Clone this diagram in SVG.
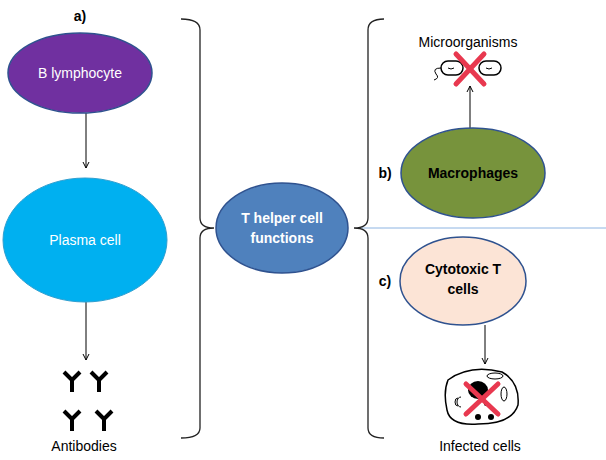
<svg xmlns="http://www.w3.org/2000/svg" width="606" height="460" viewBox="0 0 606 460">
<style>
text{font-family:"Liberation Sans",Arial,sans-serif;font-size:14px;text-anchor:middle}
.b{font-weight:bold}
.w{fill:#fff}
.ln{stroke:#000;stroke-width:1;fill:none}
.br{stroke:#222;stroke-width:1.3;fill:none}
.x{stroke:#e8384f;stroke-width:5;stroke-linecap:round}
.ab{stroke:#000;stroke-width:4;fill:none}
</style>
<defs>
<marker id="ar" markerWidth="8" markerHeight="8" refX="7" refY="4" orient="auto" markerUnits="userSpaceOnUse"><path d="M1,1 L7,4 L1,7" fill="none" stroke="#000" stroke-width="1"/></marker>
<g id="y"><path class="ab" d="M0,0 V12 M0,0 L-8,-8 M0,0 L8,-8"/></g>
</defs>
<g id="connectors">
<line class="ln" x1="86" y1="113" x2="86" y2="168" marker-end="url(#ar)"/>
<line class="ln" x1="86" y1="302" x2="86" y2="360" marker-end="url(#ar)"/>
<line class="ln" x1="470" y1="128" x2="470" y2="86" marker-end="url(#ar)"/>
<line class="ln" x1="485" y1="325" x2="485" y2="364" marker-end="url(#ar)"/>
<line x1="360" y1="228" x2="606" y2="228" stroke="#8db4e2" stroke-width="1"/>
<path class="br" d="M181,19 Q200,19 200,30 V218 Q200,228 214,228 Q200,228 200,238 V428 Q200,438 181,438"/>
<path class="br" d="M384,19 Q368,19 368,30 V218 Q368,228 354,228 Q368,228 368,238 V428 Q368,438 384,438"/>
</g>
<text class="b" x="80" y="21">a)</text>
<g id="b-lymphocyte"><ellipse cx="80" cy="73" rx="72" ry="40" fill="#7030a0" stroke="#2f528f" stroke-width="1.5"/><text class="w" x="80" y="78">B lymphocyte</text></g>
<g id="plasma"><ellipse cx="85" cy="240" rx="82" ry="62" fill="#00b0f0" stroke="#2f9fd0" stroke-width="1"/><text class="w" x="85" y="245">Plasma cell</text></g>
<g id="antibodies">
<use href="#y" x="72" y="380"/><use href="#y" x="99" y="380"/><use href="#y" x="72" y="419"/><use href="#y" x="104" y="419"/>
<text x="84" y="451">Antibodies</text></g>
<g id="thelper"><ellipse cx="282" cy="228" rx="66" ry="45" fill="#4f81bd" stroke="#2f528f" stroke-width="1.5"/><text class="b w" x="282" y="223">T helper cell</text><text class="b w" x="282" y="243">functions</text></g>
<text class="b" x="385" y="178">b)</text>
<g id="macrophages"><ellipse cx="473" cy="173" rx="72" ry="45" fill="#77933c" stroke="#2f528f" stroke-width="1.5"/><text class="b" x="473" y="178">Macrophages</text></g>
<g id="microorganisms"><text x="468" y="47">Microorganisms</text>
<rect x="441" y="61" width="22" height="14" rx="7" fill="none" stroke="#000" stroke-width="1.5"/>
<rect x="479" y="61" width="22" height="14" rx="7" fill="none" stroke="#000" stroke-width="1.5"/>
<path d="M441,68 Q432,68 436,74 Q440,78 434,80" class="ln"/>
<path d="M448,68 q3,2 6,0 M486,68 q3,2 6,0" class="ln"/>
<line class="x" x1="456" y1="54" x2="484" y2="84"/><line class="x" x1="484" y1="54" x2="456" y2="84"/></g>
<text class="b" x="385" y="286">c)</text>
<g id="cytotoxic"><ellipse cx="463" cy="281" rx="63" ry="44" fill="#fce4d6" stroke="#2f528f" stroke-width="1.5"/><text class="b" x="463" y="274">Cytotoxic T</text><text class="b" x="463" y="294">cells</text></g>
<g id="infected">
<path d="M448,380 Q470,364 502,372 Q520,382 518,405 Q512,424 478,424 Q450,426 447,410 Q443,392 448,380 Z" fill="#fff" stroke="#000" stroke-width="1.5"/>
<ellipse cx="478" cy="390" rx="10" ry="9"/><circle cx="478" cy="417" r="3"/><circle cx="491" cy="417" r="3"/><circle cx="486" cy="404" r="2"/>
<ellipse cx="495" cy="376" rx="8" ry="3" fill="none" stroke="#000"/><ellipse cx="504" cy="394" rx="3" ry="7" fill="none" stroke="#000"/>
<path d="M458,398 a3,4 0 0 0 0,8 M461,397 a4,5 0 0 0 0,10" class="ln"/>
<line class="x" x1="466" y1="384" x2="498" y2="414"/><line class="x" x1="498" y1="384" x2="466" y2="414"/></g>
<text x="480" y="451">Infected cells</text>
</svg>
